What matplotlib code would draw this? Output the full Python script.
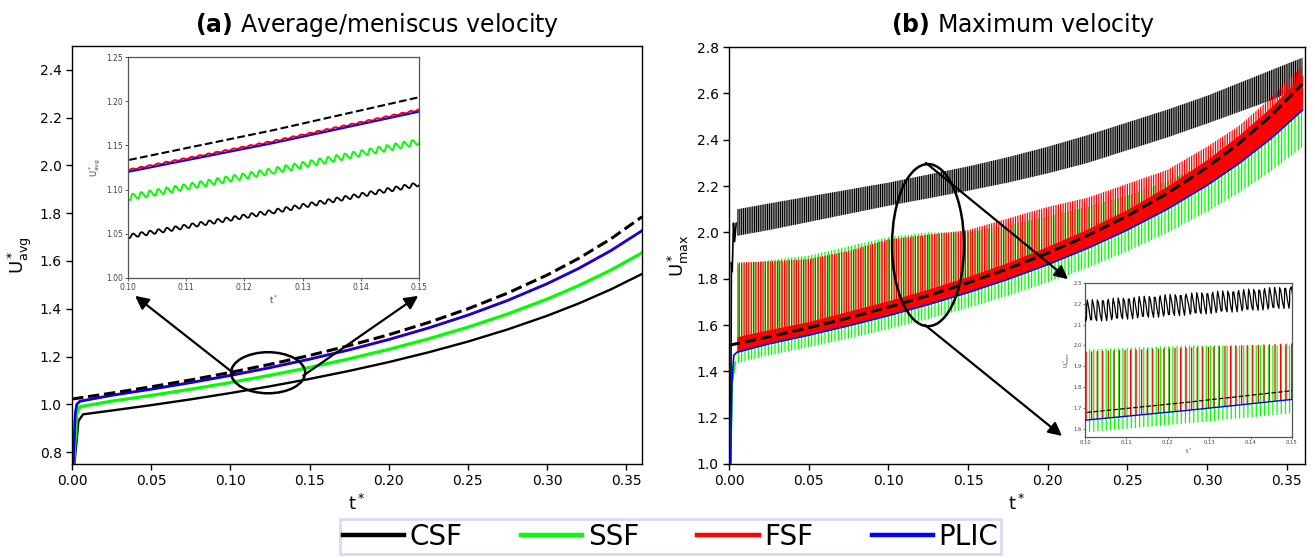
import matplotlib
matplotlib.use('Agg')
import matplotlib.pyplot as plt
from matplotlib.lines import Line2D
from matplotlib.patches import Ellipse

GREEN = '#00ff00'

# common time samples
t_grid = [0.025, 0.05, 0.075, 0.10, 0.125, 0.15, 0.175, 0.20, 0.225, 0.25,
          0.275, 0.30, 0.32, 0.34, 0.36]

# ---------------- (a) average / meniscus velocity ----------------
t_ref_a = [0.0] + t_grid
u_ref_a = [1.022, 1.0467, 1.0733, 1.1021, 1.1333, 1.1673, 1.2045, 1.2456, 1.2912,
           1.3422, 1.3997, 1.4653, 1.5411, 1.6110, 1.6914, 1.7852]

t_plic_a = [0.0, 0.0008, 0.002, 0.003, 0.005] + t_grid
u_plic_a = [0.0, 0.75, 0.96, 1.0, 1.012, 1.0368, 1.0624, 1.0901, 1.1200, 1.1526, 1.1881,
            1.2272, 1.2704, 1.3185, 1.3725, 1.4338, 1.5040, 1.5683, 1.6416, 1.7263]
u_fsf_a = [0.0, 0.75, 0.96, 1.0, 1.014, 1.0388, 1.0644, 1.0921, 1.1220, 1.1546, 1.1901,
           1.2292, 1.2724, 1.3205, 1.3745, 1.4358, 1.5060, 1.5703, 1.6436, 1.7283]

t_ssf_a = [0.0, 0.001, 0.003, 0.005] + t_grid
u_ssf_a = [0.0, 0.75, 0.96, 0.99, 1.0130, 1.0371, 1.0630, 1.0910, 1.1213, 1.1542, 1.1903,
           1.2299, 1.2738, 1.3228, 1.3778, 1.4404, 1.4971, 1.5611, 1.6341]

t_csf_a = [0.0, 0.0015, 0.004, 0.007] + t_grid
u_csf_a = [0.0, 0.75, 0.93, 0.958, 0.9737, 0.9964, 1.0207, 1.0470, 1.0753, 1.1061, 1.1398,
           1.1766, 1.2173, 1.2625, 1.3132, 1.3705, 1.4222, 1.4802, 1.5459]

# ---------------- (b) maximum velocity ----------------
t_ref_b = [0.0] + t_grid
u_ref_b = [1.5126, 1.5491, 1.5885, 1.6311, 1.6773, 1.7276, 1.7827, 1.8435, 1.9110,
           1.9865, 2.0716, 2.1686, 2.2808, 2.3843, 2.5033, 2.6421]

# envelopes of the oscillating signals
t_band = [0.005] + t_grid
plic_b = [1.4826, 1.5189, 1.5564, 1.5970, 1.6408, 1.6886, 1.7406, 1.7978, 1.8611,
          1.9316, 2.0107, 2.1005, 2.2034, 2.2976, 2.4049, 2.5290]
csf_lo = [1.985, 2.01, 2.045, 2.08, 2.115, 2.147, 2.18, 2.215, 2.255, 2.30, 2.355,
          2.41, 2.47, 2.52, 2.57, 2.63]
csf_hi = [2.10, 2.125, 2.155, 2.185, 2.215, 2.25, 2.285, 2.325, 2.37, 2.42, 2.475,
          2.53, 2.59, 2.645, 2.70, 2.755]
ssf_lo = [1.4355, 1.4689, 1.5038, 1.5414, 1.5820, 1.6259, 1.6736, 1.7259, 1.7834,
          1.8470, 1.9181, 1.9978, 2.0886, 2.1708, 2.2636, 2.3694]
ssf_hi = [1.86, 1.88, 1.90, 1.94, 1.98, 2.00, 2.00, 2.03, 2.07, 2.11, 2.16, 2.22,
          2.30, 2.38, 2.48, 2.60]
fsf_base = [1.55, 1.58, 1.615, 1.66, 1.705, 1.755, 1.81, 1.87, 1.94, 2.015, 2.10,
            2.20, 2.315, 2.42, 2.54, 2.68]
fsf_hi = [1.87, 1.875, 1.885, 1.92, 1.97, 1.99, 2.01, 2.06, 2.11, 2.15, 2.21, 2.27,
          2.37, 2.46, 2.58, 2.72]

# start-up transients
t_plic_start = [0.0, 0.001, 0.0018, 0.003]
u_plic_start = [1.0, 1.0, 1.35, 1.47]
t_ssf_start = [0.0, 0.001, 0.002, 0.004]
u_ssf_start = [1.0, 1.0, 1.35, 1.44]
t_csf_start = [0.0, 0.001, 0.0015, 0.002, 0.0028, 0.0035, 0.0045]
u_csf_start = [1.0, 1.0, 1.87, 1.83, 2.04, 1.96, 2.04]

plt.rcParams['hatch.linewidth'] = 0.9

fig = plt.figure(figsize=(13.15, 5.58), dpi=100)
ax1 = fig.add_axes([0.0548, 0.1685, 0.4335, 0.749])
ax2 = fig.add_axes([0.5544, 0.1685, 0.438, 0.747])

ticks_t = [0.0, 0.05, 0.10, 0.15, 0.20, 0.25, 0.30, 0.35]
ticks_t_lbl = ['0.00', '0.05', '0.10', '0.15', '0.20', '0.25', '0.30', '0.35']

# ---- panel (a)
ax1.plot(t_csf_a, u_csf_a, color='k', lw=1.7)
ax1.plot(t_ssf_a, u_ssf_a, color=GREEN, lw=2.3)
ax1.plot(t_plic_a, u_fsf_a, color='red', lw=1.7)
ax1.plot(t_plic_a, u_plic_a, color='blue', lw=1.8)
ax1.plot(t_ref_a, u_ref_a, 'k--', lw=2.2)
ax1.set_xlim(0, 0.36)
ax1.set_ylim(0.75, 2.5)
ax1.set_yticks([0.8, 1.0, 1.2, 1.4, 1.6, 1.8, 2.0, 2.2, 2.4])
ax1.set_xticks(ticks_t)
ax1.set_xticklabels(ticks_t_lbl)
ax1.set_ylabel(r'U$^*_{\mathregular{avg}}$', fontsize=13)
ax1.set_xlabel(r't$^*$', fontsize=13)

ax1.add_patch(Ellipse((0.1238, 1.132), 0.0468, 0.172, fill=False, ec='k', lw=1.8, zorder=6))
arrow = dict(arrowstyle='-|>', color='k', lw=1.6, mutation_scale=20, shrinkA=0, shrinkB=0)
ax1.annotate('', xy=(0.0398, 1.454), xytext=(0.1024, 1.128), arrowprops=arrow, zorder=6)
ax1.annotate('', xy=(0.2186, 1.454), xytext=(0.146, 1.120), arrowprops=arrow, zorder=6)

# ---- panel (b)
ax2.fill_between(t_band, csf_lo, csf_hi, facecolor='none', edgecolor='k', lw=0, hatch='|' * 9, zorder=2)
ax2.plot(t_csf_start, u_csf_start, color='k', lw=1.2, zorder=2)
ax2.fill_between(t_band, ssf_lo, ssf_hi, facecolor='none', edgecolor=GREEN, lw=0, hatch='|' * 5, zorder=3)
ax2.plot(t_ssf_start, u_ssf_start, color=GREEN, lw=1.2, zorder=3)
ax2.fill_between(t_band, plic_b, fsf_hi, facecolor='none', edgecolor='red', lw=0, hatch='|' * 7, zorder=4)
ax2.fill_between(t_band, plic_b, fsf_base, color='red', lw=0, zorder=5)
ax2.plot(t_plic_start + t_band, u_plic_start + plic_b, color='blue', lw=1.2, zorder=6)
ax2.plot(t_ref_b, u_ref_b, 'k--', lw=2.2, zorder=7)
ax2.set_xlim(0, 0.3615)
ax2.set_ylim(1.0, 2.8)
ax2.set_yticks([1.0, 1.2, 1.4, 1.6, 1.8, 2.0, 2.2, 2.4, 2.6, 2.8])
ax2.set_xticks(ticks_t)
ax2.set_xticklabels(ticks_t_lbl)
ax2.set_ylabel(r'U$^*_{\mathregular{max}}$', fontsize=13)
ax2.set_xlabel(r't$^*$', fontsize=13)

ax2.add_patch(Ellipse((0.1249, 1.945), 0.0452, 0.70, fill=False, ec='k', lw=1.8, zorder=8))
ax2.annotate('', xy=(0.2128, 1.798), xytext=(0.1236, 2.30), arrowprops=arrow, zorder=8)
ax2.annotate('', xy=(0.209, 1.121), xytext=(0.123, 1.60), arrowprops=arrow, zorder=8)

for ax in (ax1, ax2):
    ax.tick_params(labelsize=10, length=4, width=1)
    for s in ax.spines.values():
        s.set_linewidth(1.0)

# ---- inset of panel (a)
ins1 = fig.add_axes([0.0973, 0.5018, 0.2213, 0.396])
l_csf, = ins1.plot(t_csf_a, u_csf_a, color='k', lw=1.3)
l_ssf, = ins1.plot(t_ssf_a, u_ssf_a, color=GREEN, lw=1.4)
l_fsf, = ins1.plot(t_plic_a, u_fsf_a, color='red', lw=1.5)
ins1.plot(t_plic_a, u_plic_a, color='blue', lw=1.4)
ins1.plot(t_ref_a, u_ref_a, 'k--', lw=1.5)
l_csf.set_sketch_params(scale=2.0, length=8.6, randomness=1)
l_ssf.set_sketch_params(scale=3.0, length=8.6, randomness=1)
l_fsf.set_sketch_params(scale=0.7, length=8.6, randomness=1)
ins1.set_xlim(0.10, 0.15)
ins1.set_ylim(1.0, 1.25)
ins1.set_xticks([0.10, 0.11, 0.12, 0.13, 0.14, 0.15])
ins1.set_xticklabels(['0.10', '0.11', '0.12', '0.13', '0.14', '0.15'])
ins1.set_yticks([1.00, 1.05, 1.10, 1.15, 1.20, 1.25])
ins1.set_yticklabels(['1.00', '1.05', '1.10', '1.15', '1.20', '1.25'])
ins1.set_ylabel(r'U$^*_{\mathregular{avg}}$', fontsize=6, color='#444444', labelpad=2)
ins1.set_xlabel(r't$^*$', fontsize=6, color='#444444', labelpad=1)
ins1.tick_params(labelsize=5.5, length=2, width=0.6, pad=1.5, colors='#444444')

# ---- inset of panel (b)
csf_mid = [(a + b) / 2 for a, b in zip(csf_lo, csf_hi)]
ins2 = fig.add_axes([0.8251, 0.2168, 0.1574, 0.276])
ins2.fill_between(t_band, ssf_lo, ssf_hi, facecolor='none', edgecolor=GREEN, lw=0, hatch='|' * 4, zorder=2)
ins2.fill_between(t_band, plic_b, fsf_hi, facecolor='none', edgecolor='red', lw=0, hatch='|' * 3, zorder=3)
l_mid, = ins2.plot(t_band, csf_mid, color='k', lw=0.9, zorder=4)
l_mid.set_sketch_params(scale=11, length=5.2, randomness=1)
ins2.plot(t_band, plic_b, color='blue', lw=1.0, zorder=5)
ins2.plot(t_ref_b, u_ref_b, 'k--', lw=0.9, zorder=6)
ins2.set_xlim(0.10, 0.15)
ins2.set_ylim(1.56, 2.3)
ins2.set_xticks([0.10, 0.11, 0.12, 0.13, 0.14, 0.15])
ins2.set_xticklabels(['0.10', '0.11', '0.12', '0.13', '0.14', '0.15'])
ins2.set_yticks([1.6, 1.7, 1.8, 1.9, 2.0, 2.1, 2.2, 2.3])
ins2.set_yticklabels(['1.6', '1.7', '1.8', '1.9', '2.0', '2.1', '2.2', '2.3'])
ins2.set_ylabel(r'U$^*_{\mathregular{max}}$', fontsize=4.5, color='#444444', labelpad=1)
ins2.set_xlabel(r't$^*$', fontsize=4.5, color='#444444', labelpad=1)
ins2.tick_params(labelsize=3.8, length=1.5, width=0.5, pad=1, colors='#444444')

for ins in (ins1, ins2):
    for s in ins.spines.values():
        s.set_edgecolor('#555555')
        s.set_linewidth(0.9)

# ---- titles
fig.text(0.2867, 0.955, r'$\mathbf{(a)}$ Average/meniscus velocity', fontsize=17, ha='center', va='center')
fig.text(0.778, 0.955, r'$\mathbf{(b)}$ Maximum velocity', fontsize=17, ha='center', va='center')

# ---- shared legend
names = ['CSF', 'SSF', 'FSF', 'PLIC']
cols = ['black', GREEN, 'red', 'blue']
handles = [Line2D([0], [0], color=c, lw=3.2) for c in cols]
leg = fig.legend(handles, names, loc='center', bbox_to_anchor=(0.51, 0.038), ncol=4,
                 fontsize=20, frameon=True, fancybox=False, edgecolor='#d0d0f4',
                 handlelength=2.2, handletextpad=0.2, columnspacing=2.1, borderpad=0.12)
leg.get_frame().set_linewidth(2)

fig.savefig('out.png', dpi=100)
